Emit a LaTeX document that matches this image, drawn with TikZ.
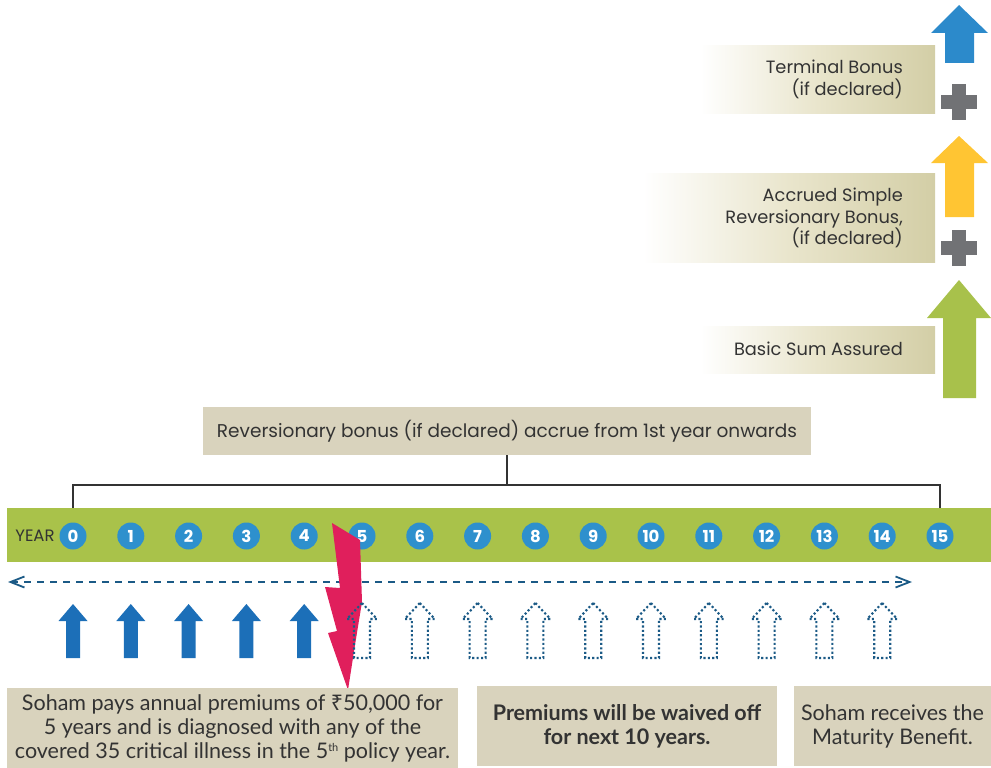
\documentclass[tikz,border=0pt]{standalone}
\usepackage{fontspec}
\setmainfont{Poppins}
\newfontfamily\condfont{Lato}
\newfontfamily\rupeefont{Noto Sans}
\usetikzlibrary{arrows.meta}
\definecolor{barGreen}{HTML}{A9C24A}
\definecolor{yearBlue}{HTML}{2E90CD}
\definecolor{solidBlue}{HTML}{1C6FB8}
\definecolor{lineBlue}{HTML}{1B5A86}
\definecolor{boltPink}{HTML}{E01F5C}
\definecolor{tanBox}{HTML}{D9D3BD}
\definecolor{tanSide}{HTML}{D3CEA6}
\definecolor{tanMid}{HTML}{E9E5CC}
\definecolor{plusGray}{HTML}{717275}
\definecolor{arrBlue}{HTML}{2C8ACB}
\definecolor{arrYellow}{HTML}{FFC533}
\definecolor{arrGreen}{HTML}{A8C14B}
\definecolor{txtDark}{HTML}{333333}
\tikzset{
  yearc/.style={circle, fill=yearBlue, text=white, minimum size=27pt, inner sep=0pt,
    font=\fontsize{16.5}{16.5}\selectfont\bfseries},
  sidebox/.style={rectangle, draw=none, left color=white, right color=tanSide, middle color=tanMid,
    inner sep=0pt},
  sidetext/.style={anchor=east, align=right, text=txtDark, inner sep=0pt,
    font=\fontsize{17.8}{21.5}\selectfont},
  revbox/.style={rectangle, fill=tanBox, minimum width=608pt, minimum height=48pt, inner sep=0pt,
    text=txtDark, font=\fontsize{18.5}{20}\selectfont},
  botbox/.style={rectangle, fill=tanBox, minimum height=80pt, inner sep=0pt, align=center,
    text=txtDark, font=\condfont\fontsize{21.5}{24}\selectfont},
  connline/.style={draw=txtDark, line width=1.2pt},
  dashline/.style={draw=lineBlue, line width=1.8pt, dash pattern=on 7pt off 6pt,
    {Straight Barb[length=14pt,width=11pt,line width=1.8pt]}-{Straight Barb[length=14pt,width=11pt,line width=1.8pt]}},
  dotarrow/.style={draw=lineBlue, line width=2.1pt, dash pattern=on 2.1pt off 2.3pt},
}
\begin{document}
\begin{tikzpicture}[x=1pt,y=-1pt]
\useasboundingbox (0,0) rectangle (991,768);

% right side stack
\node[sidebox, minimum width=235pt, minimum height=67pt] (tbbox) at (817.5,79.5) {};
\node[sidetext] (tbtext) at (903,79.5) {Terminal Bonus\\(if declared)};
\node[sidebox, minimum width=292pt, minimum height=89pt] (acbox) at (789,217.5) {};
\node[sidetext] (actext) at (903,218) {Accrued Simple\\Reversionary Bonus,\\(if declared)};
\node[sidebox, minimum width=235pt, minimum height=47pt] (bsbox) at (817.5,349.5) {};
\node[sidetext] (bstext) at (903,349) {Basic Sum Assured};

\fill[arrBlue] (959,5) -- (988,33) -- (974,33) -- (974,63) -- (945,63) -- (945,33) -- (931,33) -- cycle;
\fill[arrYellow] (959,136) -- (988,163) -- (974,163) -- (974,217) -- (945,217) -- (945,163) -- (931,163) -- cycle;
\fill[arrGreen] (959,280) -- (991,318) -- (976,318) -- (976,398) -- (943,398) -- (943,318) -- (927,318) -- cycle;
\fill[plusGray] (952,84) rectangle (966,120);
\fill[plusGray] (941,95) rectangle (977,109);
\fill[plusGray] (952,230) rectangle (966,266);
\fill[plusGray] (941,241) rectangle (977,255);

% reversionary box and connectors
\node[revbox] (rev) at (507,431) {Reversionary bonus (if declared) accrue from 1st year onwards};
\coordinate (hL) at (73,485);
\coordinate (hR) at (940,485);
\coordinate (barL) at (73,508);
\coordinate (barR) at (940,508);
\draw[connline] (rev.south) -- (rev.south |- hL);
\draw[connline] (barL) -- (hL) -- (hR) -- (barR);

% timeline bar
\fill[barGreen] (7,508) rectangle (991,562);
\node[text=txtDark, font=\fontsize{16.5}{16.5}\selectfont, inner sep=0pt] (yr) at (35,536) {YEAR};
\foreach \i in {0,...,15} {
  \node[yearc] (y\i) at ({73+57.8*\i},536) {\i};
}

% dashed double arrow
\coordinate (dL) at (8,582);
\coordinate (dR) at (912,582);
\draw[dashline] (dL) -- (dR);

% paid premiums
\foreach \i in {0,...,4} {
  \pgfmathsetmacro\xx{73+57.8*\i}
  \fill[solidBlue] (\xx,604) -- (\xx+14.5,621) -- (\xx+7,621) -- (\xx+7,658) -- (\xx-7,658) -- (\xx-7,621) -- (\xx-14.5,621) -- cycle;
}

% lightning bolt
\fill[boltPink] (332,523) -- (360,540) -- (362,602) -- (355,645) -- (348,690) -- (328,633) -- (337,631) -- (325,587) -- (340,588) -- cycle;

% waived premiums
\foreach \i in {5,...,14} {
  \pgfmathsetmacro\xx{73+57.8*\i}
  \draw[dotarrow] (\xx,603) -- (\xx+15,619) -- (\xx+8,619) -- (\xx+8,658) -- (\xx-8,658) -- (\xx-8,619) -- (\xx-15,619) -- cycle;
}

% bottom boxes
\node[botbox, minimum width=451pt] (b1) at (232.5,728) {Soham pays annual premiums of {\rupeefont ₹}50,000 for\\5 years and is diagnosed with any of the\\covered 35 critical illness in the 5\raisebox{7pt}{\fontsize{11}{11}\selectfont th} policy year.};
\node[botbox, minimum width=300pt, font=\condfont\fontsize{21.5}{24}\selectfont\bfseries] (b2) at (627,726) {Premiums will be waived off\\for next 10 years.};
\node[botbox, minimum width=197pt] (b3) at (892.5,726) {Soham receives the\\Maturity Benefit.};
\end{tikzpicture}
\end{document}
